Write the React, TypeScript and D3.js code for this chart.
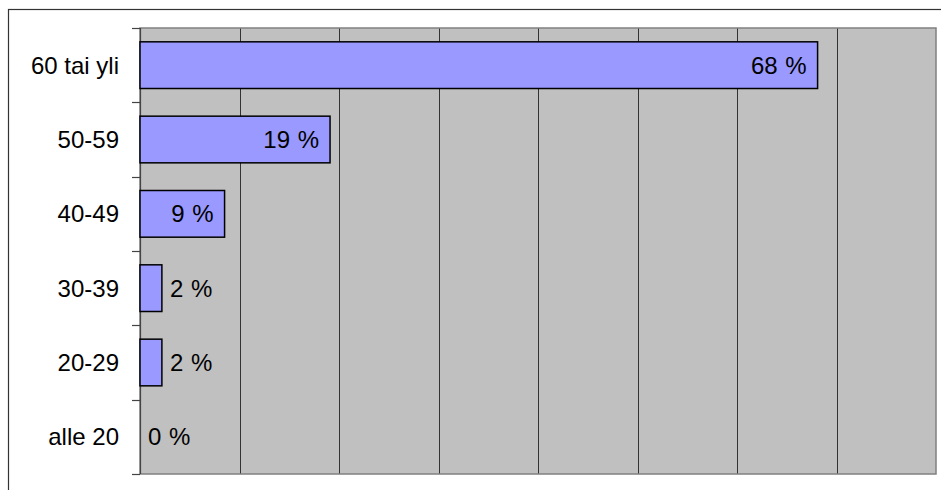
import React from "react";
import * as d3 from "d3";

const categories = ["60 tai yli", "50-59", "40-49", "30-39", "20-29", "alle 20"];
const values = [68.1, 19.1, 8.5, 2.2, 2.2, 0];
const labels = ["68 %", "19 %", "9 %", "2 %", "2 %", "0 %"];
const xTicks = [0, 10, 20, 30, 40, 50, 60, 70, 80];

const W = 941;
const H = 490;
const plot = { left: 140, top: 28, right: 936, bottom: 474 };
const FONT = "'Liberation Sans', Arial, sans-serif";
const FS = 24;

export default function App() {
  const x = d3.scaleLinear().domain([0, 80]).range([plot.left, plot.right]);
  const yOuter = d3
    .scaleBand<string>()
    .domain(categories)
    .range([plot.top, plot.bottom])
    .padding(0);
  const y = d3
    .scaleBand<string>()
    .domain(categories)
    .range([plot.top, plot.bottom])
    .paddingInner(0.372)
    .paddingOuter(0.186);

  const approxTextW = (s: string) => s.length * FS * 0.56 + 6;

  return (
    <svg
      width={W}
      height={H}
      style={{ position: "absolute", left: 0, top: 0, background: "#fff" }}
      fontFamily={FONT}
    >
      <rect x={8.5} y={9.5} width={1200} height={800} fill="#fff" stroke="#333" strokeWidth={1.2} />
      <rect
        x={plot.left}
        y={plot.top}
        width={plot.right - plot.left}
        height={plot.bottom - plot.top}
        fill="#c0c0c0"
      />
      {xTicks.slice(1, -1).map((t) => (
        <line
          key={t}
          x1={Math.round(x(t)) + 0.5}
          x2={Math.round(x(t)) + 0.5}
          y1={plot.top}
          y2={plot.bottom}
          stroke="#333"
          strokeWidth={1}
        />
      ))}
      <rect
        x={plot.left}
        y={plot.top}
        width={plot.right - plot.left}
        height={plot.bottom - plot.top}
        fill="none"
        stroke="#808080"
        strokeWidth={1.5}
      />
      <line x1={plot.left + 0.5} x2={plot.left + 0.5} y1={plot.top} y2={plot.bottom} stroke="#444" strokeWidth={1.2} />
      {[...categories.map((c) => yOuter(c) as number), plot.bottom].map((yy, i) => (
        <line
          key={i}
          x1={plot.left - 8}
          x2={plot.left}
          y1={Math.round(yy) + 0.5}
          y2={Math.round(yy) + 0.5}
          stroke="#444"
          strokeWidth={1.2}
        />
      ))}
      {categories.map((c, i) => {
        const y0 = y(c) as number;
        const bw = y.bandwidth();
        const w = x(values[i]) - x(0);
        return values[i] > 0 ? (
          <rect key={c} x={x(0)} y={y0} width={w} height={bw} fill="#9999ff" stroke="#000" strokeWidth={1.5} />
        ) : null;
      })}
      {categories.map((c, i) => {
        const yc = (y(c) as number) + y.bandwidth() / 2;
        const xe = x(values[i]);
        const w = xe - x(0);
        const inside = w > approxTextW(labels[i]) + 14;
        return (
          <text
            key={c}
            x={inside ? xe - 11 : xe + 8}
            y={yc}
            dy="0.36em"
            textAnchor={inside ? "end" : "start"}
            fontSize={FS}
            wordSpacing={1}
            fill="#000"
          >
            {labels[i]}
          </text>
        );
      })}
      {categories.map((c) => (
        <text
          key={c}
          x={plot.left - 21}
          y={(yOuter(c) as number) + yOuter.bandwidth() / 2}
          dy="0.36em"
          textAnchor="end"
          fontSize={FS}
          fill="#000"
        >
          {c}
        </text>
      ))}
    </svg>
  );
}
